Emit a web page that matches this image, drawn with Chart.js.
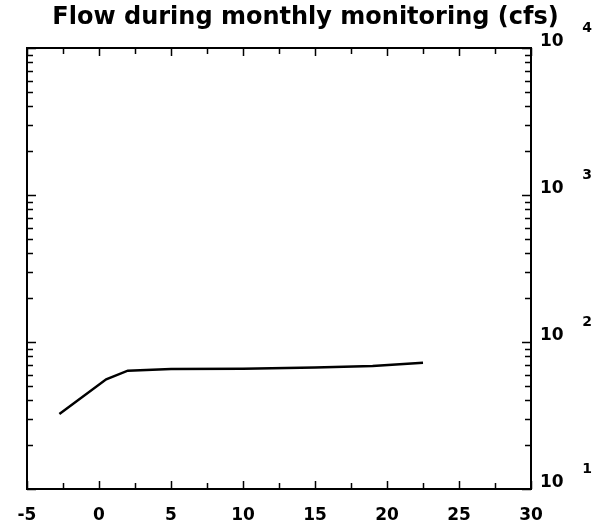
<!DOCTYPE html>
<html><head><meta charset="utf-8">
<script src="https://cdn.jsdelivr.net/npm/chart.js@4.4.0/dist/chart.umd.min.js"></script>
<style>html,body{margin:0;padding:0;background:#fff}</style>
</head><body>
<canvas id="c" width="611" height="526"></canvas>
<script>
const titleText = 'Flow during monthly monitoring (cfs)';
const monthOffset = [-2.75, 0.5, 2.0, 5, 10, 15, 19, 22.5];
const flowCfs = [32.4, 55.7, 63.8, 65.4, 65.8, 67.0, 68.7, 72.3];
const xTicks = [-5, 0, 5, 10, 15, 20, 25, 30];
const xMinorTicks = [-2.5, 2.5, 7.5, 12.5, 17.5, 22.5, 27.5];
const yDecades = [10, 100, 1000, 10000];
const yTickBase = ['10', '10', '10', '10'];
const yExponents = ['1', '2', '3', '4'];
const yMinorMult = [2, 3, 4, 5, 6, 7, 8, 9];

const FONT = '"DejaVu Sans", Verdana, sans-serif';

const framePlugin = {
  id: 'frame',
  afterDraw(chart) {
    const ctx = chart.ctx, a = chart.chartArea;
    const xs = chart.scales.x, ys = chart.scales.y;
    ctx.save();
    ctx.strokeStyle = '#000';
    ctx.lineWidth = 2;
    ctx.strokeRect(a.left, a.top, a.right - a.left, a.bottom - a.top);
    ctx.lineWidth = 1.5;
    ctx.beginPath();
    const xt = (v, len) => {
      const p = Math.round(xs.getPixelForValue(v)) + 0.5;
      ctx.moveTo(p, a.bottom); ctx.lineTo(p, a.bottom - len);
      ctx.moveTo(p, a.top); ctx.lineTo(p, a.top + len);
    };
    xTicks.forEach(v => xt(v, 8));
    xMinorTicks.forEach(v => xt(v, 6));
    const yt = (v, len) => {
      const p = Math.round(ys.getPixelForValue(v)) + 0.5;
      ctx.moveTo(a.left, p); ctx.lineTo(a.left + len, p);
      ctx.moveTo(a.right, p); ctx.lineTo(a.right - len, p);
    };
    yDecades.forEach(v => yt(v, 9));
    yDecades.slice(0, -1).forEach(d => yMinorMult.forEach(m => yt(d * m, 6)));
    ctx.stroke();
    // exponents of the right-hand tick labels
    ctx.fillStyle = '#000';
    ctx.font = 'bold 14px ' + FONT;
    ctx.textAlign = 'center';
    ctx.textBaseline = 'middle';
    yDecades.forEach((v, i) => {
      const p = ys.getPixelForValue(v);
      ctx.fillText(yExponents[i], 587, p - 20);
    });
    ctx.restore();
  }
};

new Chart(document.getElementById('c'), {
  type: 'line',
  data: {
    datasets: [{
      data: monthOffset.map((x, i) => ({x: x, y: flowCfs[i]})),
      borderColor: '#000',
      borderWidth: 2.5,
      pointRadius: 0,
      tension: 0,
      fill: false
    }]
  },
  options: {
    responsive: false,
    animation: false,
    devicePixelRatio: 1,
    layout: {padding: 0},
    plugins: {
      legend: {display: false},
      tooltip: {enabled: false},
      title: {
        display: true, text: titleText, color: '#000',
        font: {family: FONT, size: 24, weight: 'bold'},
        padding: {top: 3, bottom: 16.2}
      }
    },
    scales: {
      x: {
        type: 'linear', min: -5, max: 30,
        afterBuildTicks: s => { s.ticks = xTicks.map(v => ({value: v})); },
        grid: {display: false, drawTicks: false, tickLength: 0}, border: {display: false},
        ticks: {color: '#000', font: {family: FONT, size: 17, weight: 'bold'}, padding: 16, maxRotation: 0, autoSkip: false},
        afterFit: s => { s.height = 37; }
      },
      y: {
        type: 'logarithmic', position: 'right', min: 10, max: 10000,
        afterBuildTicks: s => { s.ticks = yDecades.map(v => ({value: v})); },
        grid: {display: false, drawTicks: false, tickLength: 0}, border: {display: false},
        ticks: {color: '#000', font: {family: FONT, size: 17, weight: 'bold'}, padding: 9, labelOffset: -6,
          autoSkip: false, callback: (v, i) => yTickBase[i]},
        afterFit: s => { s.width = 80; }
      },
      yLeft: {
        type: 'logarithmic', position: 'left', min: 10, max: 10000,
        grid: {display: false, drawTicks: false}, border: {display: false},
        ticks: {display: false},
        afterFit: s => { s.width = 27; }
      }
    }
  },
  plugins: [framePlugin]
});
</script>
</body></html>
